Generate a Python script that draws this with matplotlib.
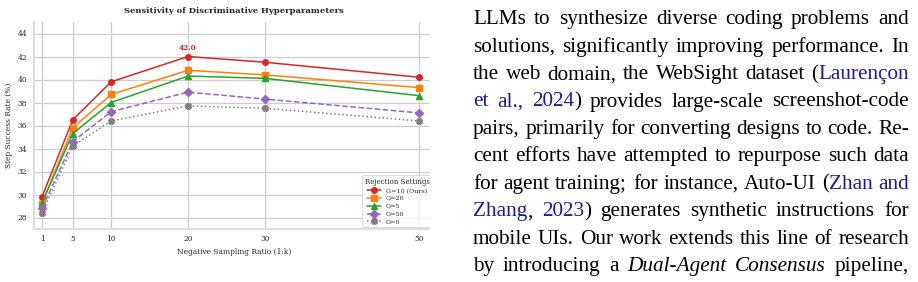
import matplotlib
matplotlib.use('Agg')
import matplotlib.pyplot as plt
import seaborn as sns
from matplotlib.patches import Rectangle

# chart data
ratios = [1, 5, 10, 20, 30, 50]
g10 = [29.8, 36.5, 39.8, 42.0, 41.5, 40.2]
g20 = [29.2, 35.8, 38.7, 40.8, 40.4, 39.3]
g5 = [29.3, 35.3, 38.0, 40.3, 40.1, 38.6]
g50 = [28.8, 34.6, 37.2, 38.9, 38.3, 37.1]
g0 = [28.4, 34.2, 36.4, 37.7, 37.5, 36.4]
series_labels = ['G=10 (Ours)', 'G=20', 'G=5', 'G=50', 'G=0']
yticks = [28, 30, 32, 34, 36, 38, 40, 42, 44]

# paper text to the right of the chart
blue = '#1c1c96'
text_lines = [
    [("LLMs to synthesize diverse coding problems and", 'n')],
    [("solutions, significantly improving performance. In", 'n')],
    [("the web domain, the WebSight dataset (", 'n'), ("Laurençon", 'b')],
    [("et al., 2024", 'b'), (") provides large-scale screenshot-code", 'n')],
    [("pairs, primarily for converting designs to code. Re-", 'n')],
    [("cent efforts have attempted to repurpose such data", 'n')],
    [("for agent training; for instance, Auto-UI (", 'n'), ("Zhan and", 'b')],
    [("Zhang", 'b'), (", ", 'n'), ("2023", 'b'), (") generates synthetic instructions for", 'n')],
    [("mobile UIs. Our work extends this line of research", 'n')],
    [("by introducing a ", 'n'), ("Dual-Agent Consensus", 'i'), (" pipeline,", 'n')],
]

sns.set_theme(style='whitegrid')
plt.rcParams['font.family'] = 'DejaVu Serif'

W, H = 918, 282
fig = plt.figure(figsize=(W / 100, H / 100), dpi=100)
ax = fig.add_axes([34.3 / W, 1 - 229 / H, (434 - 34.3) / W, (229 - 22) / H])

styles = [
    dict(color='#d62728', marker='o', ls='-'),
    dict(color='#ff7f0e', marker='s', ls='-'),
    dict(color='#2ca02c', marker='^', ls='-'),
    dict(color='#9467bd', marker='D', ls='--'),
    dict(color='#7f7f7f', marker='X', ls=':'),
]
for vals, lab, st in zip([g10, g20, g5, g50, g0], series_labels, styles):
    ax.plot(ratios, vals, label=lab, lw=1.1, ms=4, **st)

ax.annotate('42.0', (20, max(g10)), xytext=(0, 3.5), textcoords='offset points',
            ha='center', va='bottom', color='#d62728', fontweight='bold', fontsize=5.2)

ax.set_xlim(0, 52)
ax.set_ylim(27, 45)
ax.set_xticks(ratios)
ax.set_yticks(yticks)
ax.tick_params(axis='both', labelsize=5.4, length=0)
ax.tick_params(axis='x', pad=4)
ax.tick_params(axis='y', pad=5)
ax.set_xlabel('Negative Sampling Ratio (1:k)', fontsize=5.4, labelpad=4)
ax.set_ylabel('Step Success Rate (%)', fontsize=5.4, labelpad=3)
ax.set_title('Sensitivity of Discriminative Hyperparameters', fontsize=6.0,
             fontweight='bold', pad=6.5)
ax.grid(True, color='#cccccc', lw=0.9)
for s in ['top', 'right']:
    ax.spines[s].set_visible(False)
for s in ['left', 'bottom']:
    ax.spines[s].set_color('#dddddd')
    ax.spines[s].set_linewidth(1.6)

leg = ax.legend(loc='lower right', title='Rejection Settings', fontsize=4.6,
                title_fontsize=5.0, frameon=True, borderaxespad=0.3,
                handlelength=2.2, labelspacing=0.35, borderpad=0.4)
leg.get_frame().set_edgecolor('#cccccc')
leg.get_frame().set_linewidth(0.6)

# the chart is cut off at x=430 in the reference
fig.patches.append(Rectangle((430 / W, 0), 1, 1, transform=fig.transFigure,
                             facecolor='white', edgecolor='none', zorder=10))

# justified text column
renderer = fig.canvas.get_renderer()
fsize = 15.3
left, right = 473, 909
base0, step = 24.3, 27.4


def make_words(segs):
    words = [[]]
    for txt, sty in segs:
        parts = txt.split(' ')
        for i, p in enumerate(parts):
            if i > 0:
                words.append([])
            if p:
                words[-1].append((p, sty))
    return [w for w in words if w]


def put(x, y, s, sty):
    return fig.text(x / W, 1 - y / H, s, fontsize=fsize,
                    family=['Liberation Serif', 'DejaVu Serif'],
                    color=blue if sty == 'b' else 'black',
                    style='italic' if sty == 'i' else 'normal',
                    va='baseline', ha='left', zorder=11)


for n, segs in enumerate(text_lines):
    y = base0 + n * step
    words = make_words(segs)
    placed = []
    total = 0
    for w in words:
        arts = []
        for p, sty in w:
            t = put(0, y, p, sty)
            wd = t.get_window_extent(renderer).width
            arts.append((t, wd))
            total += wd
        placed.append(arts)
    gap = (right - left - total) / (len(words) - 1)
    x = left
    for arts in placed:
        for t, wd in arts:
            t.set_x(x / W)
            x += wd
        x += gap

fig.savefig('out.png', dpi=100)
